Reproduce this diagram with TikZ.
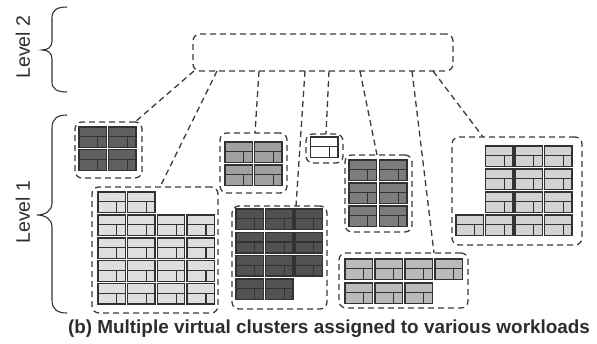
\documentclass[tikz,border=0pt]{standalone}
\usepackage{fontspec}
\setmainfont{Liberation Sans}
\usetikzlibrary{calc}
\definecolor{dashgray}{RGB}{60,60,60}
\definecolor{bordgray}{RGB}{50,50,50}
\definecolor{txtgray}{RGB}{45,45,45}
\definecolor{fA}{RGB}{95,95,95}
\definecolor{fB}{RGB}{222,222,222}
\definecolor{fC}{RGB}{160,160,160}
\definecolor{fD}{RGB}{255,255,255}
\definecolor{fE}{RGB}{82,82,82}
\definecolor{fF}{RGB}{125,125,125}
\definecolor{fG}{RGB}{186,186,186}
\definecolor{fH}{RGB}{210,210,210}
\tikzset{
  cluster/.style={draw=dashgray, line width=1.3pt, dash pattern=on 6pt off 4pt,
    rounded corners=7pt, inner sep=0pt, outer sep=0pt},
  conn/.style={draw=dashgray, line width=1.3pt, dash pattern=on 6pt off 4pt},
  unitbd/.style={draw=bordgray, line width=1.4pt},
  unitln/.style={draw=bordgray, line width=1.1pt},
  bracepath/.style={draw=bordgray, line width=1.1pt},
  lvl/.style={rotate=90, font=\fontsize{19.5}{22}\selectfont, text=txtgray}
}
\newcommand{\srvunit}[3]{%
  \fill[#3] (#1,#2) rectangle ++(27.3,20.5);
  \draw[unitln] (#1,#2+9.7) -- ++(27.3,0) (#1+18.9,#2+9.7) -- ++(0,10.8);
  \draw[unitbd] (#1,#2) rectangle ++(27.3,20.5);
}
\begin{document}
\begin{tikzpicture}[x=1pt,y=-1pt]
\useasboundingbox (0,0) rectangle (597,343);
% labels and braces
\node[lvl] (l2) at (23,47) {Level 2};
\node[lvl] (l1) at (23,212) {Level 1};
\draw[bracepath] (67,7) .. controls (57,7) and (52,10) .. (52,18) -- (52,41)
  .. controls (52,47) and (48,50) .. (42,50) .. controls (48,50) and (52,53) .. (52,59)
  -- (52,82) .. controls (52,89) and (57,92) .. (67,92);
\draw[bracepath] (67,115) .. controls (57,115) and (52,119) .. (52,128) -- (52,203)
  .. controls (52,211) and (45,215) .. (37,215) .. controls (45,215) and (52,219) .. (52,227)
  -- (52,300) .. controls (52,309) and (57,313) .. (67,313);
% top box
\node[cluster, minimum width=260pt, minimum height=37pt] (top) at (323,52.5) {};
% cluster A
\foreach \c in {0,1}{\foreach \r in {0,1}{\srvunit{79+29.7*\c}{127+22.7*\r}{fA}}}
\node[cluster, minimum width=67pt, minimum height=56pt] (cA) at (108.5,150) {};
% cluster B
\foreach \c in {0,1}{\srvunit{98+29.7*\c}{192}{fB}}
\foreach \r in {1,2,3,4}{\foreach \c in {0,1,2,3}{\srvunit{98+29.7*\c}{192+22.9*\r}{fB}}}
\node[cluster, minimum width=126pt, minimum height=126pt] (cB) at (155,250) {};
% cluster C
\foreach \c in {0,1}{\foreach \r in {0,1}{\srvunit{225+29.7*\c}{142+23*\r}{fC}}}
\node[cluster, minimum width=67pt, minimum height=60pt] (cC) at (253.5,163) {};
% cluster D
\srvunit{310.5}{137}{fD}
\node[cluster, minimum width=37pt, minimum height=29pt] (cD) at (324.5,148.5) {};
% cluster E
\foreach \r in {0,1,2}{\foreach \c in {0,1,2}{\srvunit{236+29.5*\c}{209+23.3*\r}{fE}}}
\foreach \c in {0,1}{\srvunit{236+29.5*\c}{279}{fE}}
\node[cluster, minimum width=95pt, minimum height=103pt] (cE) at (279.5,257.5) {};
% cluster F
\foreach \r in {0,1,2}{\foreach \c in {0,1}{\srvunit{349+30.5*\c}{160+23*\r}{fF}}}
\node[cluster, minimum width=67pt, minimum height=77pt] (cF) at (378.5,193.5) {};
% cluster G
\foreach \c in {0,1,2,3}{\srvunit{345+30*\c}{259}{fG}}
\foreach \c in {0,1,2}{\srvunit{345+30*\c}{283}{fG}}
\node[cluster, minimum width=129pt, minimum height=55pt] (cG) at (403.5,280.5) {};
% cluster H
\foreach \r in {0,1,2}{\foreach \c in {1,2,3}{\srvunit{456+29.5*\c}{146+23*\r}{fH}}}
\foreach \c in {0,1,2,3}{\srvunit{456+29.5*\c}{215}{fH}}
\node[cluster, minimum width=130pt, minimum height=108pt] (cH) at (517,191) {};
% connectors
\draw[conn] ($(top.south west)+(1,0)$) -- ($(cA.north east)+(-7,0)$);
\draw[conn] ($(top.south west)+(24,0)$) -- ($(cB.north west)+(68,0)$);
\draw[conn] ($(top.south west)+(66,0)$) -- ($(cC.north west)+(35,0)$);
\draw[conn] ($(top.south west)+(112,0)$) -- ($(cE.north west)+(64,0)$);
\draw[conn] ($(top.south west)+(136,0)$) -- ($(cD.north west)+(20,0)$);
\draw[conn] ($(top.south west)+(167,0)$) -- ($(cF.north west)+(32,0)$);
\draw[conn] ($(top.south west)+(219,0)$) -- ($(cG.north west)+(95,0)$);
\draw[conn] ($(top.south west)+(240,0)$) -- ($(cH.north west)+(31,0)$);
% caption
\node[font=\bfseries\fontsize{18.9}{22}\selectfont, text=txtgray] (cap) at (329,328.5)
  {(b) Multiple virtual clusters assigned to various workloads};
\end{tikzpicture}
\end{document}
